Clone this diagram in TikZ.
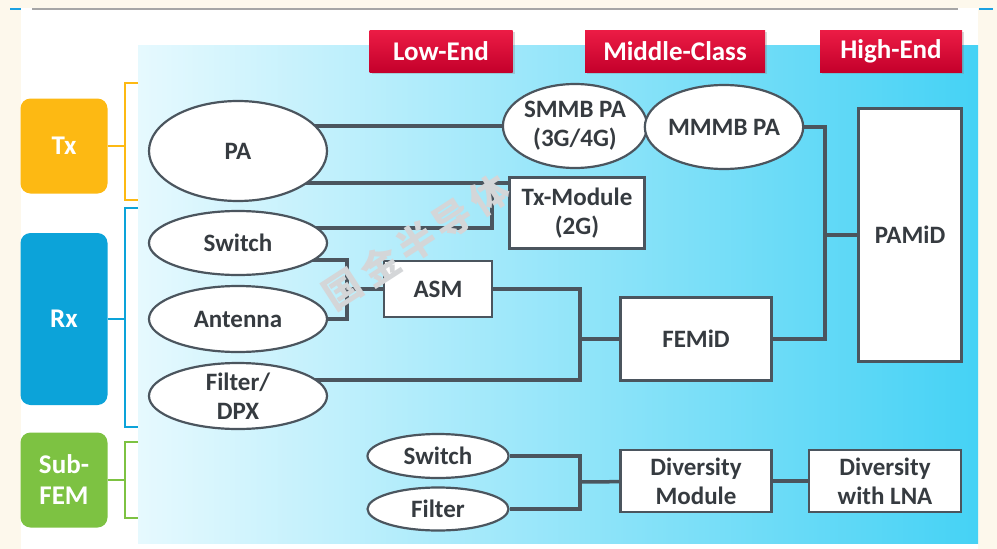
\documentclass[tikz,border=0pt]{standalone}
\usepackage{fontspec}
\setmainfont{Carlito}
\newfontfamily\cjkfont{Noto Sans CJK SC}
\usetikzlibrary{shapes.geometric,shadows}
\definecolor{wirecol}{HTML}{4B555E}
\definecolor{labelcol}{HTML}{363B40}
\definecolor{cream}{HTML}{FDF8EC}
\definecolor{tagtop}{HTML}{EC1C45}
\definecolor{tagbot}{HTML}{C4002B}
\definecolor{txcol}{HTML}{FDB913}
\definecolor{rxcol}{HTML}{0CA3D9}
\definecolor{subcol}{HTML}{7DC242}
\definecolor{panleft}{HTML}{E6F9FE}
\definecolor{panmid}{HTML}{86E2F8}
\definecolor{panright}{HTML}{45D2F5}
\definecolor{tickcol}{HTML}{1BA1E2}
\definecolor{markcol}{HTML}{D4D6D8}
\pgfdeclarelayer{back}
\pgfdeclarelayer{wires}
\pgfsetlayers{back,wires,main}
\tikzset{
  unit/.style={font=\fontsize{25}{29}\selectfont\bfseries, text=labelcol,
    align=center, draw=wirecol, line width=2.2pt, fill=white, inner sep=0pt},
  oval/.style={unit, ellipse},
  block/.style={unit, rectangle},
  wire/.style={draw=wirecol, line width=3.5pt},
  tag/.style={rectangle, top color=tagtop, bottom color=tagbot, text=white,
    font=\fontsize{27}{30}\selectfont\bfseries, minimum height=42pt, inner sep=0pt,
    drop shadow={opacity=.3, shadow xshift=2pt, shadow yshift=-2pt}},
  side/.style={rectangle, rounded corners=10pt, minimum width=87pt, text=white,
    font=\fontsize{27}{31}\selectfont\bfseries, align=center, inner sep=0pt},
  brace/.style={line width=2.2pt},
  wmark/.style={rotate=33, text=markcol, font=\cjkfont\bfseries\fontsize{38}{38}\selectfont, inner sep=0pt}
}

\begin{document}
\begin{tikzpicture}[x=1pt, y=-1pt]
\useasboundingbox (0,0) rectangle (997,549);

% frame and panel
\begin{pgfonlayer}{back}
\fill[cream] (0,0) rectangle (997,549);
\fill[white] (21,8) rectangle (978,549);
\draw[gray!70, line width=2pt] (32,9) -- (958,9);
\draw[tickcol, line width=2pt] (10,9) -- (21,9) (979,9) -- (993,9);
\shade[left color=panleft, middle color=panmid, right color=panright]
  (138,45) rectangle (978,543);
\end{pgfonlayer}

% classes
\node[tag, minimum width=143pt] (low) at (441,51) {Low-End};
\node[tag, minimum width=180pt] (mid) at (675,51) {Middle-Class};
\node[tag, minimum width=142pt] (high) at (891,51) {High-End};

% left groups
\node[side, fill=txcol, minimum height=95pt] (tx) at (64,146) {Tx};
\node[side, fill=rxcol, minimum height=172pt] (rx) at (64,319) {Rx};
\node[side, fill=subcol, minimum height=95pt] (sub) at (64,480) {Sub-\\FEM};

\draw[brace, txcol] (tx.east) -- (125,146) (138,83) -- (125,83) -- (125,200) -- (138,200);
\draw[brace, rxcol] (rx.east) -- (125,319) (138,208) -- (125,208) -- (125,427) -- (138,427);
\draw[brace, subcol] (sub.east) -- (125,480) (138,442) -- (125,442) -- (125,518) -- (138,518);

% components
\node[oval, minimum width=178pt, minimum height=100pt] (pa) at (238,151) {PA};
\node[oval, minimum width=178pt, minimum height=64pt] (sw) at (238,243) {Switch};
\node[oval, minimum width=178pt, minimum height=66pt] (ant) at (238,319) {Antenna};
\node[oval, minimum width=178pt, minimum height=66pt] (flt) at (238,396) {Filter/\\DPX};
\node[oval, minimum width=138pt, minimum height=84pt] (smmb) at (575,126) {SMMB PA\\(3G/4G)};
\node[oval, minimum width=136pt, minimum height=84pt] (mmmb) at (724,127) {MMMB PA};
\node[oval, minimum width=141pt, minimum height=44pt] (swb) at (438,456) {Switch};
\node[oval, minimum width=141pt, minimum height=43pt] (fltb) at (438,509) {Filter};

\node[block, minimum width=135pt, minimum height=71pt] (txm) at (577,213) {Tx-Module\\(2G)};
\node[block, minimum width=108pt, minimum height=56pt] (asm) at (438,289) {ASM};
\node[block, minimum width=151pt, minimum height=83pt] (femid) at (696,339) {FEMiD};
\node[block, minimum width=103pt, minimum height=253pt] (pamid) at (910,235) {PAMiD};
\node[block, minimum width=151pt, minimum height=62pt] (div) at (696,481) {Diversity\\Module};
\node[block, minimum width=152pt, minimum height=62pt] (divl) at (885,481) {Diversity\\with LNA};

% junctions
\coordinate (tj) at (492,183);
\coordinate (tk) at (492,228);
\coordinate (at) at (347,260);
\coordinate (aj) at (347,289);
\coordinate (fb) at (580,380);
\coordinate (pj) at (825,235);
\coordinate (dj) at (580,482);

\begin{pgfonlayer}{wires}
\draw[wire] (pa.center |- smmb.west) -- (smmb.west);
\draw[wire] (smmb) -- (mmmb);
\draw[wire] (pa.center |- tj) -- (txm.west |- tj);
\draw[wire] (sw.center |- tk) -- (tk) -- (tj);
\draw[wire] (sw.center |- at) -- (at) |- (ant);
\draw[wire] (aj) -- (asm);
\draw[wire] (asm) -| (fb) -- (flt.center |- fb);
\draw[wire] (fb |- femid) -- (femid);
\draw[wire] (femid) -| (pj |- mmmb) -- (mmmb);
\draw[wire] (pj) -- (pamid);
\draw[wire] (swb) -| (dj |- fltb) -- (fltb);
\draw[wire] (dj) -- (div);
\draw[wire] (div) -- (divl);
\end{pgfonlayer}

% watermark
\node[wmark] (wm1) at (343,290) {国};
\node[wmark] (wm2) at (380,266) {金};
\node[wmark] (wm3) at (417,242) {半};
\node[wmark] (wm4) at (453,219) {导};
\node[wmark] (wm5) at (490,195) {体};
\end{tikzpicture}
\end{document}
